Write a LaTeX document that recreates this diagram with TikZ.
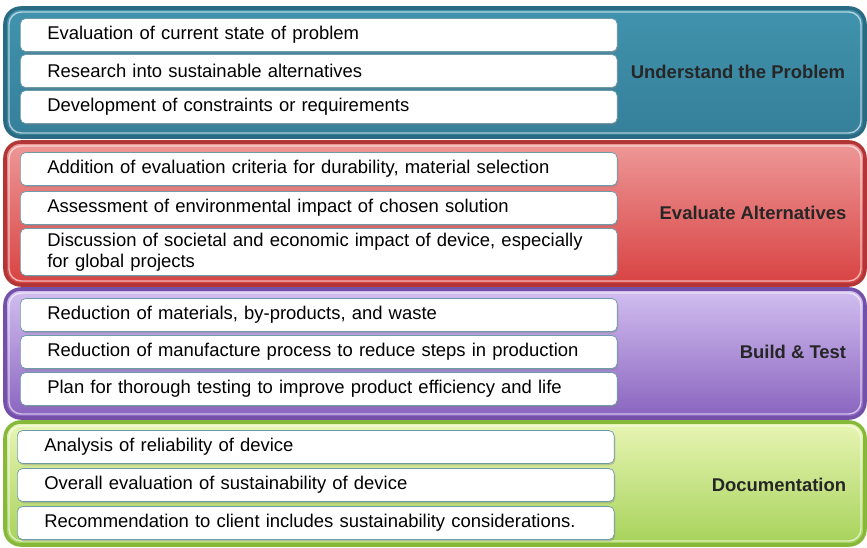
\documentclass[tikz,border=0pt]{standalone}
\usepackage{fontspec}
\setmainfont{Liberation Sans}
\usetikzlibrary{shadows}
\definecolor{tealtop}{HTML}{4193AD}
\definecolor{tealbot}{HTML}{357F99}
\definecolor{tealedge}{HTML}{2A6A82}
\definecolor{redtop}{HTML}{EE9898}
\definecolor{redbot}{HTML}{D84242}
\definecolor{rededge}{HTML}{B33636}
\definecolor{purptop}{HTML}{D2BFF0}
\definecolor{purpbot}{HTML}{8963BF}
\definecolor{purpedge}{HTML}{7450A8}
\definecolor{greentop}{HTML}{E8F5B4}
\definecolor{greenbot}{HTML}{A6D25A}
\definecolor{greenedge}{HTML}{86B83A}
\definecolor{itemline}{HTML}{6E9AAA}
\begin{document}
\begin{tikzpicture}[x=0.02cm,y=-0.02cm,
    band/.style={line width=2pt,rounded corners=9pt},
    bevel/.style={line width=0.8pt,rounded corners=7pt,opacity=0.6},
    item/.style={draw=itemline,fill=white,rounded corners=3pt,anchor=west,
        text width=10.86cm,inner xsep=0.54cm,inner ysep=2pt,minimum height=0.66cm,
        align=left,font=\fontsize{10.5}{12}\selectfont,
        drop shadow={opacity=0.35,shadow xshift=0.6pt,shadow yshift=-1pt}},
    phase/.style={font=\bfseries\fontsize{10.5}{12}\selectfont,text=black!85}]
    \useasboundingbox (0,0) rectangle (867,548);
    % Draw the four bands
    \draw[band,draw=tealedge,top color=tealtop,bottom color=tealbot] (5,8) rectangle (865,137);
    \draw[bevel,white] (9,12) rectangle (861,133);
    \draw[band,draw=rededge,top color=redtop,bottom color=redbot] (5,142) rectangle (865,285);
    \draw[bevel,white] (9,146) rectangle (861,281);
    \draw[band,draw=purpedge,top color=purptop,bottom color=purpbot] (5,289) rectangle (865,418);
    \draw[bevel,white] (9,293) rectangle (861,414);
    \draw[band,draw=greenedge,top color=greentop,bottom color=greenbot] (5,422) rectangle (865,545);
    \draw[bevel,white] (9,426) rectangle (861,541);
    % Understand the Problem
    \node[item] (u1) at (20,35) {Evaluation of current state of problem};
    \node[item] (u2) at (20,71) {Research into sustainable alternatives};
    \node[item] (u3) at (20,107) {Development of constraints or requirements};
    \node[phase] (understand) at (738,72) {Understand the Problem};
    % Evaluate Alternatives
    \node[item] (e1) at (20,169) {Addition of evaluation criteria for durability, material selection};
    \node[item] (e2) at (20,208) {Assessment of environmental impact of chosen solution};
    \node[item,minimum height=0.94cm] (e3) at (20,252) {Discussion of societal and economic impact of device, especially\\for global projects};
    \node[phase] (evaluate) at (753,213) {Evaluate Alternatives};
    % Build & Test
    \node[item] (b1) at (20,315) {Reduction of materials, by-products, and waste};
    \node[item] (b2) at (20,352) {Reduction of manufacture process to reduce steps in production};
    \node[item] (b3) at (20,389) {Plan for thorough testing to improve product efficiency and life};
    \node[phase] (build) at (793,352) {Build \& Test};
    % Documentation
    \node[item] (d1) at (17,447) {Analysis of reliability of device};
    \node[item] (d2) at (17,485) {Overall evaluation of sustainability of device};
    \node[item] (d3) at (17,523) {Recommendation to client includes sustainability considerations.};
    \node[phase] (document) at (779,485) {Documentation};
\end{tikzpicture}
\end{document}
